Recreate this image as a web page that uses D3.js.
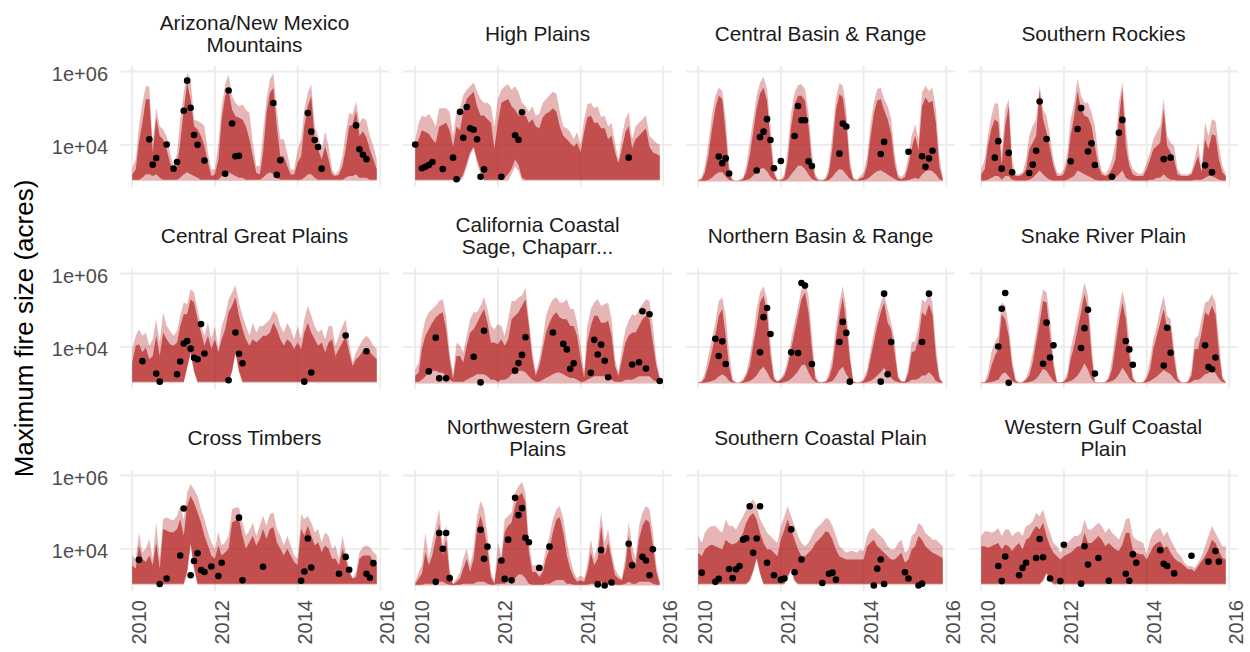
<!DOCTYPE html>
<html>
<head>
<meta charset="utf-8">
<script src="https://cdn.jsdelivr.net/npm/d3@7"></script>
<style>
  body { margin: 0; background: #fff; }
  svg { display: block; font-family: "Liberation Sans", Arial, sans-serif; }
</style>
</head>
<body>
<div id="chart"></div>
<script>
// facet titles (one entry per panel, split in lines as in the strips)
const stripLabels = [
  ["Arizona/New Mexico", "Mountains"], ["High Plains"], ["Central Basin & Range"], ["Southern Rockies"],
  ["Central Great Plains"], ["California Coastal", "Sage, Chaparr..."], ["Northern Basin & Range"], ["Snake River Plain"],
  ["Cross Timbers"], ["Northwestern Great", "Plains"], ["Southern Coastal Plain"], ["Western Gulf Coastal", "Plain"]
];

const yTicks = [1e4, 1e6];
const yTickLabels = ["1e+04", "1e+06"];
const xTickYears = [2010, 2012, 2014, 2016];

// monthly values, Jan 2010 .. Dec 2015, log10(acres), one row of 12 per year
const hi95 = [
 [3.37,3.6,4.51,5.15,5.6,5.6,4.05,5.01,4.51,4.42,4.24,3.78,
  3.42,3.78,4.69,5.42,5.96,5.78,4.69,4.65,4.6,4.51,3.78,3.33,
  3.33,4.05,5.05,5.65,5.92,5.33,5.15,5.05,5.1,4.96,4.87,4.05,
  3.42,3.42,4.33,5.24,5.78,5.96,4.96,4.15,4.15,3.78,3.33,3.33,
  3.87,4.15,4.96,5.42,5.65,4.51,4.24,3.87,4.37,3.96,3.33,3.19,
  3.33,3.69,4.33,4.87,4.83,5.19,4.6,4.74,4.65,4.24,3.96,3.6],
 [4.15,4.6,4.8,4.75,4.85,4.7,4.5,5.0,5.0,5.0,4.9,4.25,
  4.9,5.0,5.35,5.5,5.6,5.7,5.45,5.25,5.15,5.15,5.05,4.5,
  5.25,5.5,5.6,5.65,5.5,5.6,5.45,5.15,5.05,4.9,5.05,4.8,
  4.85,5.15,5.25,5.35,5.45,5.4,4.9,4.5,4.45,4.35,4.15,4.35,
  4.0,4.7,5.1,5.15,5.0,5.05,4.75,4.8,4.5,4.6,4.05,3.6,
  4.25,4.7,4.9,4.15,4.5,4.6,4.7,4.8,4.25,4.15,4.05,4.0],
 [3.05,3.11,3.43,4.06,4.79,5.34,5.56,5.47,4.7,3.43,3.06,3.02,
  3.05,3.11,3.43,4.06,4.7,5.34,5.7,5.86,5.52,4.52,3.34,3.06,
  3.06,3.2,3.88,4.88,5.43,5.63,5.65,5.52,4.88,3.79,3.2,3.06,
  3.05,3.11,3.43,4.34,5.25,5.68,5.61,4.97,3.61,3.11,3.05,3.15,
  3.25,3.7,4.52,5.15,5.52,5.56,5.25,5.06,4.7,3.79,3.2,3.11,
  3.25,3.7,4.25,4.56,4.15,5.43,5.61,5.47,5.56,4.97,3.7,3.11],
 [3.34,3.61,4.25,4.79,5.15,5.11,3.79,4.97,5.25,3.61,3.2,3.2,
  3.25,3.61,4.25,4.52,4.7,5.61,4.97,4.79,4.25,3.61,3.25,3.2,
  3.34,3.79,4.7,5.15,5.81,5.34,5.15,5.15,4.88,4.52,3.7,3.29,
  3.2,3.34,3.61,4.06,5.15,5.72,4.52,3.61,3.34,3.25,3.2,3.25,
  3.52,3.79,4.15,4.34,4.52,5.26,4.25,4.06,3.97,3.34,3.2,3.2,
  3.2,3.25,3.61,4.06,3.34,4.61,4.25,4.7,4.65,3.97,3.43,3.2],
 [3.94,4.3,4.48,4.3,4.39,4.03,4.21,4.75,4.12,4.94,4.57,4.44,
  4.3,4.44,4.85,5.21,5.16,5.57,5.48,5.03,4.57,4.3,4.66,4.21,
  4.57,3.94,4.57,4.85,5.3,5.48,5.68,5.21,4.85,4.57,4.3,4.66,
  4.39,4.57,4.57,4.66,4.75,4.98,4.89,4.57,4.39,4.66,4.48,4.21,
  4.57,4.21,4.75,5.12,4.85,4.57,4.39,4.48,4.21,4.57,4.57,4.03,
  4.3,4.57,4.75,4.12,3.57,3.85,4.03,4.21,4.3,4.21,4.03,3.94],
 [3.39,3.57,4.3,4.75,4.94,5.03,5.12,5.25,5.3,4.85,3.85,3.25,
  4.12,4.03,3.85,4.3,4.75,4.94,4.94,5.12,5.35,5.03,4.57,4.48,
  4.62,4.57,4.3,4.75,5.25,5.25,5.35,5.39,5.62,4.75,3.85,3.3,
  3.66,4.21,4.85,5.12,5.3,5.35,5.21,5.21,5.3,5.03,5.03,4.66,
  4.03,3.3,4.57,5.03,5.21,5.3,5.12,5.16,5.21,4.75,3.66,3.3,
  3.94,4.48,4.71,4.89,4.85,5.03,5.16,5.3,5.25,4.57,3.66,3.16],
 [3.03,3.07,3.3,3.75,4.21,4.66,5.25,5.35,4.85,3.85,3.12,3.03,
  3.03,3.12,3.3,3.75,4.3,5.03,5.48,5.66,5.3,4.12,3.21,3.07,
  3.14,3.3,3.66,4.21,4.66,5.12,5.57,5.77,5.39,4.3,3.21,3.05,
  3.05,3.07,3.3,3.75,4.57,5.21,5.66,5.03,3.85,3.07,3.03,3.05,
  3.12,3.39,3.85,4.39,4.85,5.21,5.45,5.03,4.66,4.21,3.21,3.07,
  3.07,3.48,4.12,4.16,4.57,5.3,5.21,5.48,5.21,4.03,3.21,3.03],
 [3.03,3.05,3.3,3.85,4.12,4.3,5.21,5.12,4.57,3.66,3.12,3.03,
  3.05,3.16,3.39,3.85,4.39,5.03,5.57,5.48,4.75,3.66,3.05,3.03,
  3.07,3.3,3.94,4.39,4.85,5.3,5.75,5.39,4.12,3.05,3.03,3.03,
  3.05,3.21,3.66,4.39,5.03,5.53,5.12,4.12,3.21,3.03,3.03,3.05,
  3.21,3.66,4.21,4.57,5.03,5.39,4.85,4.75,3.94,3.21,3.05,3.03,
  3.07,3.39,4.21,4.3,4.75,5.21,5.25,5.44,5.21,4.21,3.21,3.05],
 [3.82,3.73,4.45,3.91,4.0,4.27,3.73,4.72,3.73,4.81,4.86,4.81,
  4.77,4.9,5.17,4.81,5.53,5.76,5.62,5.44,5.08,4.81,4.45,4.18,
  4.0,4.45,4.09,4.18,4.36,5.08,5.13,5.13,4.72,4.36,4.5,4.72,
  4.36,4.63,4.9,4.63,4.95,4.99,4.54,4.36,4.09,4.36,4.09,3.82,
  3.73,4.95,4.81,4.9,4.72,4.45,4.54,4.18,4.45,4.36,4.0,4.09,
  3.73,4.36,3.91,3.46,3.19,3.37,3.91,4.05,4.09,4.05,3.91,3.82],
 [3.1,3.37,3.55,4.45,3.73,4.18,4.63,5.08,4.09,4.68,3.46,3.05,
  3.19,3.37,3.73,4.0,3.55,4.0,4.9,5.31,5.08,4.36,3.37,3.1,
  4.18,3.82,4.81,4.9,4.99,5.53,5.71,5.82,5.53,4.18,3.55,3.55,
  3.32,3.55,4.0,4.36,4.81,5.08,5.17,4.81,4.18,3.73,3.37,3.19,
  3.28,3.19,3.55,4.27,3.73,4.09,4.99,4.18,4.54,3.91,3.46,3.28,
  3.19,3.82,4.72,4.09,3.73,4.63,4.99,5.17,5.08,4.45,3.55,3.1],
 [4.35,4.16,4.44,4.57,4.62,4.62,4.53,4.44,4.8,4.62,4.62,4.53,
  4.71,4.89,5.07,5.25,5.35,5.16,4.8,4.62,4.44,4.35,4.25,4.16,
  4.62,4.89,5.16,4.89,4.62,4.35,4.16,4.07,4.16,4.35,4.53,4.62,
  4.71,4.85,4.8,4.62,4.35,4.07,3.98,3.89,3.94,3.94,3.89,3.98,
  3.94,4.35,4.53,4.57,4.44,4.35,4.25,4.07,3.98,3.98,4.16,4.25,
  3.89,3.98,4.35,4.44,4.71,4.62,4.44,4.35,4.25,4.25,4.16,4.07],
 [4.35,4.48,4.48,4.44,4.48,4.57,4.35,4.53,4.53,4.35,4.44,4.48,
  4.35,4.62,4.66,4.75,4.98,4.89,5.07,4.71,4.44,4.16,4.07,3.89,
  4.07,4.16,4.25,4.35,4.35,4.44,4.8,4.53,4.53,4.62,4.71,4.62,
  4.44,4.57,4.44,4.35,4.25,4.48,4.8,4.85,4.35,4.25,4.21,4.16,
  3.85,4.25,4.44,4.53,4.57,4.35,4.48,4.25,4.07,3.89,3.8,3.62,
  3.53,3.53,3.48,3.62,3.8,4.07,4.35,4.62,4.44,4.25,4.07,4.07]
];

const hi50 = [
 [3.19,3.33,4.05,4.6,5.24,5.24,3.78,4.74,4.24,4.15,3.87,3.51,
  3.24,3.42,4.05,4.96,5.69,5.24,4.51,4.42,4.24,3.96,3.51,3.15,
  3.19,3.6,4.69,5.33,5.51,4.96,4.78,4.74,4.69,4.51,4.15,3.69,
  3.24,3.19,3.78,4.87,5.42,5.55,4.51,3.69,3.69,3.42,3.19,3.19,
  3.51,3.69,4.51,5.05,5.33,4.15,3.87,3.6,3.96,3.6,3.19,3.15,
  3.19,3.42,3.87,4.51,4.55,4.92,4.24,4.37,4.19,3.87,3.6,3.33],
 [3.97,4.15,4.4,4.35,4.3,4.15,4.05,4.5,4.55,4.6,4.4,3.95,
  4.5,4.4,4.9,5.25,5.35,5.45,5.05,4.8,4.8,4.7,4.6,3.9,
  4.6,5.15,5.2,5.25,5.05,4.95,4.8,4.8,4.8,4.6,4.7,4.5,
  4.45,4.75,4.85,4.9,5.0,4.9,4.5,4.25,4.15,4.05,3.95,4.05,
  3.8,4.35,4.75,4.8,4.6,4.6,4.45,4.45,4.15,4.25,3.8,3.5,
  3.9,4.35,4.5,3.9,4.15,4.25,4.35,4.45,3.95,3.8,3.75,3.7],
 [3.03,3.06,3.25,3.7,4.4,5.0,5.34,5.25,4.3,3.2,3.03,3.01,
  3.03,3.06,3.25,3.7,4.35,5.0,5.4,5.56,5.2,4.1,3.2,3.03,
  3.03,3.1,3.55,4.5,5.1,5.34,5.34,5.2,4.5,3.5,3.1,3.03,
  3.03,3.06,3.25,3.95,4.95,5.38,5.3,4.6,3.4,3.06,3.03,3.08,
  3.12,3.45,4.15,4.85,5.2,5.25,4.95,4.7,4.3,3.5,3.1,3.06,
  3.12,3.45,3.9,4.25,3.85,5.05,5.29,5.15,5.2,4.6,3.4,3.06],
 [3.2,3.34,3.97,4.43,4.7,4.61,3.43,4.52,5.06,3.34,3.15,3.15,
  3.2,3.34,3.88,4.06,4.25,5.47,4.7,4.34,3.88,3.43,3.15,3.15,
  3.2,3.52,4.25,4.79,5.47,4.97,4.79,4.75,4.52,3.97,3.43,3.2,
  3.15,3.2,3.34,3.61,4.7,5.52,3.97,3.43,3.2,3.15,3.15,3.15,
  3.34,3.61,3.88,3.97,4.06,4.97,3.97,3.79,3.61,3.2,3.15,3.15,
  3.15,3.2,3.43,3.7,3.25,4.15,3.88,4.29,4.25,3.61,3.25,3.15],
 [3.57,4.03,4.07,3.85,3.98,3.66,3.75,4.3,3.75,4.39,4.21,4.07,
  4.03,4.12,4.57,4.89,4.89,5.3,5.21,4.75,4.39,4.03,4.3,3.94,
  4.21,3.85,4.21,4.48,4.94,5.12,5.35,4.85,4.48,4.21,4.03,4.21,
  4.12,4.21,4.3,4.3,4.39,4.66,4.48,4.21,4.03,4.21,4.12,3.94,
  4.12,3.94,4.39,4.66,4.39,4.21,4.03,4.12,3.85,4.12,4.21,3.75,
  3.94,4.12,4.3,3.85,3.48,3.66,3.75,3.89,3.94,3.85,3.75,3.66],
 [3.21,3.3,3.94,4.3,4.48,4.66,4.8,4.89,4.94,4.48,3.66,3.12,
  3.75,3.75,3.57,4.03,4.39,4.48,4.66,4.85,5.03,4.66,4.12,4.12,
  4.07,4.21,4.03,4.21,4.75,4.85,4.94,5.12,5.3,4.57,3.66,3.21,
  3.48,3.94,4.39,4.66,4.85,4.94,4.8,4.75,4.75,4.57,4.57,4.3,
  3.66,3.16,4.12,4.57,4.85,4.85,4.66,4.66,4.71,4.3,3.48,3.21,
  3.66,4.12,4.3,4.39,4.39,4.57,4.75,4.85,4.75,4.12,3.48,3.12],
 [3.03,3.05,3.16,3.48,3.85,4.3,4.85,5.03,4.3,3.45,3.07,3.03,
  3.03,3.07,3.21,3.48,4.03,4.57,5.21,5.39,4.94,3.75,3.12,3.05,
  3.1,3.21,3.48,3.94,4.39,4.85,5.3,5.48,4.94,3.94,3.12,3.03,
  3.03,3.05,3.16,3.48,4.21,4.85,5.35,4.66,3.66,3.05,3.03,3.03,
  3.07,3.25,3.66,4.12,4.57,4.94,5.21,4.66,4.48,3.85,3.16,3.05,
  3.05,3.3,3.85,3.89,4.21,4.94,4.85,5.16,4.89,3.75,3.12,3.03],
 [3.03,3.03,3.12,3.48,3.75,3.94,4.89,4.75,4.3,3.48,3.07,3.03,
  3.03,3.1,3.21,3.57,4.12,4.66,5.25,5.21,4.3,3.48,3.03,3.03,
  3.05,3.16,3.66,4.03,4.48,4.94,5.44,5.03,3.75,3.03,3.03,3.03,
  3.03,3.12,3.39,4.03,4.66,5.21,4.75,3.75,3.12,3.03,3.03,3.03,
  3.12,3.39,3.94,4.3,4.66,5.03,4.48,4.57,3.66,3.12,3.03,3.03,
  3.05,3.21,3.94,3.94,4.39,4.94,4.85,5.12,4.89,3.85,3.12,3.03],
 [3.55,3.46,4.09,3.73,3.64,3.82,3.55,4.18,3.46,4.54,4.5,4.45,
  4.45,4.54,4.81,4.36,5.17,5.44,5.26,4.99,4.72,4.36,4.09,3.82,
  3.73,4.09,3.82,3.91,4.0,4.72,4.77,4.81,4.36,4.0,4.18,4.36,
  4.09,4.27,4.54,4.27,4.54,4.59,4.18,4.0,3.82,4.0,3.82,3.64,
  3.55,4.54,4.36,4.63,4.36,4.09,4.18,3.91,4.09,4.0,3.73,3.73,
  3.55,4.0,3.73,3.37,3.19,3.23,3.73,3.82,3.82,3.82,3.64,3.55],
 [3.05,3.19,3.32,3.91,3.55,3.82,4.27,4.68,3.82,4.27,3.28,3.03,
  3.1,3.19,3.46,3.73,3.37,3.73,4.54,4.9,4.54,4.0,3.23,3.05,
  3.73,3.64,4.45,4.63,4.72,5.17,5.44,5.53,5.26,3.91,3.37,3.37,
  3.23,3.37,3.73,4.0,4.45,4.81,4.86,4.45,3.82,3.46,3.23,3.1,
  3.14,3.1,3.37,3.91,3.55,3.73,4.63,3.82,4.18,3.73,3.28,3.19,
  3.14,3.55,4.36,3.73,3.55,4.27,4.63,4.81,4.72,4.09,3.37,3.05],
 [3.89,3.8,3.98,4.07,4.12,4.07,4.03,3.98,4.25,4.16,4.12,4.16,
  4.25,4.44,4.71,4.89,4.98,4.8,4.44,4.16,3.98,3.98,3.89,3.8,
  4.25,4.53,4.8,4.53,4.25,3.98,3.8,3.8,3.89,3.98,4.16,4.25,
  4.35,4.48,4.44,4.25,3.98,3.8,3.75,3.71,3.71,3.71,3.71,3.71,
  3.71,4.07,4.16,4.25,4.07,3.98,3.89,3.8,3.71,3.71,3.8,3.89,
  3.62,3.71,3.98,4.07,4.35,4.25,4.07,3.98,3.89,3.85,3.8,3.75],
 [4.07,4.07,4.03,4.07,4.12,4.16,3.98,4.12,4.07,3.94,4.07,4.16,
  3.98,4.25,4.3,4.48,4.62,4.53,4.71,4.35,4.07,3.89,3.8,3.71,
  3.8,3.85,3.89,3.98,4.07,4.07,4.44,4.16,4.16,4.25,4.35,4.25,
  4.07,4.16,4.07,3.98,3.94,4.12,4.44,4.44,3.98,3.89,3.85,3.85,
  3.71,3.89,4.07,4.16,4.21,4.03,4.07,3.89,3.75,3.66,3.62,3.53,
  3.44,3.44,3.39,3.53,3.66,3.8,3.98,4.25,4.16,3.94,3.75,3.71]
];

const lo50 = [
 [3.05,3.05,3.05,3.1,3.2,3.2,3.15,3.2,3.1,3.05,3.05,3.05,
  3.05,3.05,3.1,3.2,3.25,3.2,3.15,3.1,3.05,3.05,3.05,3.05,
  3.05,3.05,3.15,3.2,3.25,3.2,3.15,3.1,3.1,3.05,3.05,3.05,
  3.05,3.05,3.1,3.2,3.25,3.2,3.1,3.05,3.05,3.05,3.05,3.05,
  3.05,3.05,3.1,3.2,3.2,3.1,3.05,3.05,3.05,3.05,3.05,3.05,
  3.05,3.05,3.1,3.15,3.15,3.2,3.1,3.1,3.1,3.05,3.05,3.05],
 [3.05,3.05,3.05,3.05,3.05,3.05,3.05,3.05,3.05,3.05,3.05,3.05,
  3.05,3.05,3.2,3.5,3.8,3.95,3.6,3.3,3.05,3.05,3.05,3.05,
  3.05,3.05,3.1,3.2,3.35,3.6,3.45,3.1,3.05,3.05,3.05,3.05,
  3.05,3.05,3.05,3.05,3.05,3.05,3.05,3.05,3.05,3.05,3.05,3.05,
  3.05,3.05,3.05,3.05,3.05,3.05,3.05,3.05,3.05,3.05,3.05,3.05,
  3.05,3.05,3.05,3.05,3.05,3.05,3.05,3.05,3.05,3.05,3.05,3.05],
 [3.02,3.02,3.02,3.04,3.1,3.19,3.25,3.25,3.13,3.04,3.02,3.0,
  3.02,3.02,3.04,3.07,3.16,3.25,3.34,3.37,3.28,3.13,3.04,3.02,
  3.02,3.03,3.07,3.19,3.31,3.43,3.43,3.34,3.19,3.07,3.03,3.02,
  3.02,3.02,3.04,3.13,3.25,3.34,3.31,3.19,3.07,3.03,3.02,3.03,
  3.04,3.07,3.13,3.22,3.28,3.31,3.25,3.19,3.13,3.07,3.03,3.02,
  3.03,3.04,3.07,3.1,3.07,3.19,3.28,3.31,3.28,3.19,3.07,3.02],
 [3.03,3.03,3.05,3.1,3.15,3.15,3.05,3.15,3.15,3.05,3.03,3.03,
  3.03,3.03,3.05,3.1,3.2,3.3,3.2,3.1,3.05,3.03,3.03,3.03,
  3.03,3.05,3.1,3.15,3.3,3.25,3.2,3.15,3.1,3.05,3.03,3.03,
  3.03,3.03,3.05,3.1,3.2,3.3,3.1,3.05,3.03,3.03,3.03,3.03,
  3.03,3.05,3.05,3.1,3.1,3.2,3.1,3.05,3.05,3.03,3.03,3.03,
  3.03,3.03,3.05,3.05,3.05,3.1,3.15,3.15,3.1,3.05,3.03,3.03],
 [3.05,3.05,3.05,3.05,3.05,3.05,3.05,3.05,3.05,3.05,3.05,3.05,
  3.05,3.05,3.05,3.05,3.45,3.85,3.35,3.05,3.05,3.05,3.05,3.05,
  3.05,3.05,3.05,3.05,3.05,3.35,3.85,3.35,3.05,3.05,3.05,3.05,
  3.05,3.05,3.05,3.05,3.05,3.05,3.05,3.05,3.05,3.05,3.05,3.05,
  3.05,3.05,3.05,3.05,3.05,3.05,3.05,3.05,3.05,3.05,3.05,3.05,
  3.05,3.05,3.05,3.05,3.05,3.05,3.05,3.05,3.05,3.05,3.05,3.05],
 [3.05,3.05,3.1,3.2,3.3,3.35,3.35,3.3,3.3,3.2,3.1,3.05,
  3.05,3.05,3.05,3.1,3.15,3.2,3.25,3.25,3.25,3.2,3.1,3.1,
  3.05,3.1,3.1,3.15,3.25,3.3,3.35,3.35,3.3,3.2,3.1,3.05,
  3.05,3.1,3.15,3.2,3.25,3.3,3.3,3.25,3.2,3.15,3.15,3.1,
  3.05,3.05,3.1,3.15,3.2,3.2,3.2,3.2,3.15,3.1,3.05,3.05,
  3.05,3.1,3.1,3.1,3.15,3.2,3.2,3.2,3.2,3.1,3.05,3.02],
 [3.02,3.02,3.03,3.04,3.07,3.1,3.19,3.25,3.19,3.07,3.03,3.02,
  3.02,3.02,3.04,3.07,3.13,3.22,3.37,3.46,3.31,3.13,3.04,3.02,
  3.02,3.04,3.07,3.13,3.22,3.34,3.49,3.52,3.31,3.13,3.04,3.02,
  3.02,3.02,3.04,3.07,3.19,3.37,3.46,3.25,3.1,3.02,3.02,3.02,
  3.02,3.04,3.07,3.13,3.22,3.31,3.43,3.25,3.16,3.07,3.04,3.02,
  3.02,3.04,3.1,3.1,3.13,3.22,3.22,3.31,3.22,3.07,3.03,3.02],
 [3.02,3.02,3.03,3.04,3.07,3.1,3.25,3.31,3.19,3.07,3.03,3.02,
  3.02,3.03,3.04,3.07,3.13,3.25,3.4,3.34,3.19,3.07,3.02,3.02,
  3.02,3.04,3.07,3.13,3.22,3.37,3.55,3.37,3.13,3.02,3.02,3.02,
  3.02,3.04,3.07,3.13,3.25,3.43,3.31,3.13,3.04,3.02,3.02,3.02,
  3.04,3.07,3.13,3.19,3.28,3.37,3.31,3.25,3.13,3.04,3.02,3.02,
  3.02,3.04,3.1,3.1,3.16,3.25,3.28,3.37,3.28,3.13,3.04,3.02],
 [3.05,3.05,3.05,3.05,3.05,3.05,3.05,3.05,3.05,3.05,3.05,3.05,
  3.05,3.05,3.05,3.05,3.4,4.15,3.5,3.05,3.05,3.05,3.05,3.05,
  3.05,3.05,3.05,3.05,3.05,3.05,3.05,3.05,3.05,3.05,3.05,3.05,
  3.05,3.05,3.05,3.05,3.05,3.05,3.05,3.05,3.05,3.05,3.05,3.05,
  3.05,3.05,3.05,3.05,3.05,3.05,3.05,3.05,3.05,3.05,3.05,3.05,
  3.05,3.05,3.05,3.05,3.05,3.05,3.05,3.05,3.05,3.05,3.05,3.05],
 [3.02,3.02,3.02,3.05,3.05,3.05,3.1,3.1,3.1,3.05,3.02,3.01,
  3.02,3.02,3.05,3.05,3.05,3.05,3.1,3.1,3.1,3.05,3.02,3.02,
  3.05,3.05,3.05,3.1,3.15,3.2,3.3,3.3,3.2,3.05,3.02,3.02,
  3.02,3.02,3.05,3.05,3.1,3.15,3.15,3.15,3.05,3.05,3.02,3.02,
  3.02,3.02,3.02,3.05,3.05,3.05,3.1,3.05,3.05,3.05,3.02,3.02,
  3.02,3.05,3.1,3.05,3.05,3.1,3.1,3.1,3.1,3.05,3.02,3.02],
 [3.05,3.05,3.05,3.05,3.05,3.05,3.05,3.05,3.05,3.05,3.05,3.05,
  3.05,3.05,3.05,3.15,3.4,3.75,3.35,3.05,3.05,3.05,3.05,3.05,
  3.05,3.05,3.25,3.45,3.15,3.05,3.05,3.05,3.05,3.05,3.05,3.05,
  3.05,3.05,3.05,3.05,3.05,3.05,3.05,3.05,3.05,3.05,3.05,3.05,
  3.05,3.05,3.05,3.05,3.05,3.05,3.05,3.05,3.05,3.05,3.05,3.05,
  3.05,3.05,3.05,3.05,3.05,3.05,3.05,3.05,3.05,3.05,3.05,3.05],
 [3.05,3.05,3.05,3.05,3.05,3.05,3.05,3.05,3.05,3.05,3.05,3.05,
  3.05,3.05,3.05,3.05,3.05,3.05,3.15,3.35,3.15,3.05,3.05,3.05,
  3.05,3.05,3.05,3.05,3.05,3.05,3.05,3.05,3.05,3.05,3.05,3.05,
  3.05,3.05,3.05,3.05,3.05,3.05,3.05,3.05,3.05,3.05,3.05,3.05,
  3.05,3.05,3.05,3.05,3.05,3.05,3.05,3.05,3.05,3.05,3.05,3.05,
  3.05,3.05,3.05,3.05,3.05,3.05,3.05,3.05,3.05,3.05,3.05,3.05]
];

const lo95 = [
 [3.02,3.02,3.02,3.02,3.02,3.02,3.02,3.02,3.02,3.02,3.02,3.02,
  3.02,3.02,3.02,3.02,3.02,3.02,3.02,3.02,3.02,3.02,3.02,3.02,
  3.02,3.02,3.02,3.02,3.02,3.02,3.02,3.02,3.02,3.02,3.02,3.02,
  3.02,3.02,3.02,3.02,3.02,3.02,3.02,3.02,3.02,3.02,3.02,3.02,
  3.02,3.02,3.02,3.02,3.02,3.02,3.02,3.02,3.02,3.02,3.02,3.02,
  3.02,3.02,3.02,3.02,3.02,3.02,3.02,3.02,3.02,3.02,3.02,3.02],
 [3.02,3.02,3.02,3.02,3.02,3.02,3.02,3.02,3.02,3.02,3.02,3.02,
  3.02,3.02,3.1,3.4,3.7,3.9,3.5,3.2,3.02,3.02,3.02,3.02,
  3.02,3.02,3.02,3.02,3.2,3.4,3.3,3.02,3.02,3.02,3.02,3.02,
  3.02,3.02,3.02,3.02,3.02,3.02,3.02,3.02,3.02,3.02,3.02,3.02,
  3.02,3.02,3.02,3.02,3.02,3.02,3.02,3.02,3.02,3.02,3.02,3.02,
  3.02,3.02,3.02,3.02,3.02,3.02,3.02,3.02,3.02,3.02,3.02,3.02],
 [3.0,3.0,3.0,3.0,3.0,3.0,3.0,3.0,3.0,3.0,3.0,3.0,
  3.0,3.0,3.0,3.0,3.0,3.0,3.0,3.0,3.0,3.0,3.0,3.0,
  3.0,3.0,3.0,3.0,3.0,3.0,3.0,3.0,3.0,3.0,3.0,3.0,
  3.0,3.0,3.0,3.0,3.0,3.0,3.0,3.0,3.0,3.0,3.0,3.0,
  3.0,3.0,3.0,3.0,3.0,3.0,3.0,3.0,3.0,3.0,3.0,3.0,
  3.0,3.0,3.0,3.0,3.0,3.0,3.0,3.0,3.0,3.0,3.0,3.0],
 [3.0,3.0,3.0,3.0,3.0,3.0,3.0,3.0,3.0,3.0,3.0,3.0,
  3.0,3.0,3.0,3.0,3.0,3.0,3.0,3.0,3.0,3.0,3.0,3.0,
  3.0,3.0,3.0,3.0,3.0,3.0,3.0,3.0,3.0,3.0,3.0,3.0,
  3.0,3.0,3.0,3.0,3.0,3.0,3.0,3.0,3.0,3.0,3.0,3.0,
  3.0,3.0,3.0,3.0,3.0,3.0,3.0,3.0,3.0,3.0,3.0,3.0,
  3.0,3.0,3.0,3.0,3.0,3.0,3.0,3.0,3.0,3.0,3.0,3.0],
 [3.02,3.02,3.02,3.02,3.02,3.02,3.02,3.02,3.02,3.02,3.02,3.02,
  3.02,3.02,3.02,3.02,3.4,3.8,3.3,3.02,3.02,3.02,3.02,3.02,
  3.02,3.02,3.02,3.02,3.02,3.3,3.8,3.3,3.02,3.02,3.02,3.02,
  3.02,3.02,3.02,3.02,3.02,3.02,3.02,3.02,3.02,3.02,3.02,3.02,
  3.02,3.02,3.02,3.02,3.02,3.02,3.02,3.02,3.02,3.02,3.02,3.02,
  3.02,3.02,3.02,3.02,3.02,3.02,3.02,3.02,3.02,3.02,3.02,3.02],
 [3.0,3.0,3.0,3.0,3.0,3.0,3.0,3.0,3.0,3.0,3.0,3.0,
  3.0,3.0,3.0,3.0,3.0,3.0,3.0,3.0,3.0,3.0,3.0,3.0,
  3.0,3.0,3.0,3.0,3.0,3.0,3.0,3.0,3.0,3.0,3.0,3.0,
  3.0,3.0,3.0,3.0,3.0,3.0,3.0,3.0,3.0,3.0,3.0,3.0,
  3.0,3.0,3.0,3.0,3.0,3.0,3.0,3.0,3.0,3.0,3.0,3.0,
  3.0,3.0,3.0,3.0,3.0,3.0,3.0,3.0,3.0,3.0,3.0,3.0],
 [3.0,3.0,3.0,3.0,3.0,3.0,3.0,3.0,3.0,3.0,3.0,3.0,
  3.0,3.0,3.0,3.0,3.0,3.0,3.0,3.0,3.0,3.0,3.0,3.0,
  3.0,3.0,3.0,3.0,3.0,3.0,3.0,3.0,3.0,3.0,3.0,3.0,
  3.0,3.0,3.0,3.0,3.0,3.0,3.0,3.0,3.0,3.0,3.0,3.0,
  3.0,3.0,3.0,3.0,3.0,3.0,3.0,3.0,3.0,3.0,3.0,3.0,
  3.0,3.0,3.0,3.0,3.0,3.0,3.0,3.0,3.0,3.0,3.0,3.0],
 [3.0,3.0,3.0,3.0,3.0,3.0,3.0,3.0,3.0,3.0,3.0,3.0,
  3.0,3.0,3.0,3.0,3.0,3.0,3.0,3.0,3.0,3.0,3.0,3.0,
  3.0,3.0,3.0,3.0,3.0,3.0,3.0,3.0,3.0,3.0,3.0,3.0,
  3.0,3.0,3.0,3.0,3.0,3.0,3.0,3.0,3.0,3.0,3.0,3.0,
  3.0,3.0,3.0,3.0,3.0,3.0,3.0,3.0,3.0,3.0,3.0,3.0,
  3.0,3.0,3.0,3.0,3.0,3.0,3.0,3.0,3.0,3.0,3.0,3.0],
 [3.02,3.02,3.02,3.02,3.02,3.02,3.02,3.02,3.02,3.02,3.02,3.02,
  3.02,3.02,3.02,3.02,3.3,4.1,3.4,3.02,3.02,3.02,3.02,3.02,
  3.02,3.02,3.02,3.02,3.02,3.02,3.02,3.02,3.02,3.02,3.02,3.02,
  3.02,3.02,3.02,3.02,3.02,3.02,3.02,3.02,3.02,3.02,3.02,3.02,
  3.02,3.02,3.02,3.02,3.02,3.02,3.02,3.02,3.02,3.02,3.02,3.02,
  3.02,3.02,3.02,3.02,3.02,3.02,3.02,3.02,3.02,3.02,3.02,3.02],
 [3.0,3.0,3.0,3.0,3.0,3.0,3.0,3.0,3.0,3.0,3.0,3.0,
  3.0,3.0,3.0,3.0,3.0,3.0,3.0,3.0,3.0,3.0,3.0,3.0,
  3.0,3.0,3.0,3.0,3.0,3.0,3.0,3.0,3.0,3.0,3.0,3.0,
  3.0,3.0,3.0,3.0,3.0,3.0,3.0,3.0,3.0,3.0,3.0,3.0,
  3.0,3.0,3.0,3.0,3.0,3.0,3.0,3.0,3.0,3.0,3.0,3.0,
  3.0,3.0,3.0,3.0,3.0,3.0,3.0,3.0,3.0,3.0,3.0,3.0],
 [3.02,3.02,3.02,3.02,3.02,3.02,3.02,3.02,3.02,3.02,3.02,3.02,
  3.02,3.02,3.02,3.1,3.35,3.7,3.3,3.02,3.02,3.02,3.02,3.02,
  3.02,3.02,3.2,3.4,3.1,3.02,3.02,3.02,3.02,3.02,3.02,3.02,
  3.02,3.02,3.02,3.02,3.02,3.02,3.02,3.02,3.02,3.02,3.02,3.02,
  3.02,3.02,3.02,3.02,3.02,3.02,3.02,3.02,3.02,3.02,3.02,3.02,
  3.02,3.02,3.02,3.02,3.02,3.02,3.02,3.02,3.02,3.02,3.02,3.02],
 [3.02,3.02,3.02,3.02,3.02,3.02,3.02,3.02,3.02,3.02,3.02,3.02,
  3.02,3.02,3.02,3.02,3.02,3.02,3.1,3.3,3.1,3.02,3.02,3.02,
  3.02,3.02,3.02,3.02,3.02,3.02,3.02,3.02,3.02,3.02,3.02,3.02,
  3.02,3.02,3.02,3.02,3.02,3.02,3.02,3.02,3.02,3.02,3.02,3.02,
  3.02,3.02,3.02,3.02,3.02,3.02,3.02,3.02,3.02,3.02,3.02,3.02,
  3.02,3.02,3.02,3.02,3.02,3.02,3.02,3.02,3.02,3.02,3.02,3.02]
];

// observed maxima: [month index from Jan 2010, log10(acres)]
const observed = [
 [[5,4.15],[6,3.46],[7,3.64],[10,4.01],[12,3.35],[13,3.53],[15,4.93],[16,5.75],[17,5.01],[18,4.27],[19,4.0],[21,3.57],[27,3.21],[28,5.48],[29,4.58],[30,3.69],[31,3.7],[41,5.14],[42,3.18],[43,3.58],[51,4.87],[52,4.36],[53,4.13],[54,3.94],[55,3.35],[65,4.53],[66,3.88],[67,3.73],[68,3.61]],
 [[0,4.01],[2,3.36],[3,3.4],[4,3.45],[5,3.53],[8,3.34],[11,3.65],[12,3.06],[13,4.9],[14,4.19],[15,5.03],[16,4.45],[17,4.41],[18,4.15],[19,3.13],[20,3.33],[25,3.13],[29,4.26],[30,4.14],[31,4.89],[62,3.65]],
 [[6,3.68],[7,3.5],[8,3.63],[9,3.22],[17,3.3],[18,4.21],[19,4.36],[20,4.7],[21,4.13],[22,3.36],[24,3.56],[28,4.24],[29,5.06],[30,4.67],[31,4.67],[32,3.55],[33,3.42],[41,3.76],[42,4.58],[43,4.5],[53,3.75],[54,4.08],[61,3.81],[65,3.69],[66,3.4],[67,3.63],[68,3.84]],
 [[4,3.65],[5,4.1],[6,3.35],[8,3.78],[9,3.25],[14,3.23],[15,3.46],[16,3.84],[17,5.18],[19,4.16],[26,3.55],[28,4.43],[29,5.0],[31,3.82],[32,4.04],[33,3.45],[38,3.13],[40,4.33],[41,4.68],[53,3.61],[55,3.65],[65,3.44],[67,3.25]],
 [[3,3.61],[7,3.27],[8,3.05],[13,3.25],[14,3.6],[15,4.09],[16,4.16],[17,3.95],[18,3.7],[19,3.66],[20,4.62],[21,3.82],[28,3.09],[30,4.39],[31,3.81],[32,3.55],[50,3.05],[52,3.3],[62,4.31],[68,3.88]],
 [[4,3.33],[6,4.25],[7,3.14],[9,3.14],[17,3.73],[19,3.03],[20,4.44],[29,3.35],[30,3.56],[31,3.78],[32,4.26],[40,4.39],[43,4.08],[44,3.93],[45,3.4],[46,3.55],[51,3.29],[52,4.19],[53,3.79],[54,4.06],[55,3.62],[56,3.17],[63,3.52],[65,3.58],[66,4.97],[67,3.41],[68,4.89],[71,3.07]],
 [[5,4.22],[6,3.75],[7,4.15],[8,3.53],[18,3.85],[19,4.81],[20,5.06],[21,4.35],[27,3.85],[29,3.83],[30,5.74],[31,5.67],[33,3.53],[41,4.13],[42,4.68],[43,4.38],[44,3.05],[53,3.05],[54,5.45],[55,3.25],[56,4.13],[65,4.13],[67,5.45]],
 [[5,4.01],[6,5.04],[7,5.47],[8,3.02],[18,3.54],[19,4.66],[20,3.71],[21,4.04],[29,3.97],[30,4.51],[31,5.01],[33,3.27],[42,4.16],[43,3.93],[44,3.51],[53,3.49],[54,4.52],[55,3.84],[65,4.04],[66,3.45],[67,3.39],[68,3.71]],
 [[2,3.7],[8,3.04],[10,3.19],[14,3.82],[15,5.1],[17,3.28],[18,3.67],[19,3.88],[20,3.42],[21,3.37],[23,3.52],[25,3.26],[26,3.62],[31,4.85],[32,3.14],[38,3.51],[49,3.13],[50,3.38],[51,4.28],[52,3.49],[60,3.32],[62,3.78],[63,3.43],[68,3.32],[69,3.21],[70,3.61]],
 [[6,3.1],[7,4.43],[8,4.0],[9,4.43],[10,3.2],[19,4.52],[20,3.73],[21,4.06],[25,3.68],[26,3.18],[27,4.25],[28,3.14],[29,5.39],[30,4.92],[31,5.11],[32,4.3],[33,4.18],[36,3.48],[39,4.06],[53,3.03],[54,3.97],[55,3.0],[57,3.08],[62,4.14],[63,3.55],[66,3.78],[67,3.68],[68,3.28],[69,3.99]],
 [[1,3.35],[5,3.1],[6,3.18],[9,3.45],[10,3.2],[11,3.44],[12,3.53],[13,4.25],[14,4.29],[15,5.16],[16,3.89],[17,4.28],[18,5.16],[20,3.62],[22,3.28],[24,3.16],[25,3.19],[27,4.53],[28,3.36],[30,3.71],[36,3.07],[38,3.32],[39,3.35],[40,3.16],[51,3.0],[52,3.46],[53,3.71],[54,3.04],[60,3.36],[61,3.19],[64,3.0],[65,3.05]],
 [[5,3.53],[6,3.12],[7,3.79],[11,3.28],[12,3.48],[13,3.62],[16,3.75],[17,4.27],[18,3.77],[20,3.19],[23,3.12],[24,4.11],[29,3.05],[30,4.07],[31,3.57],[34,3.75],[37,3.13],[42,3.32],[43,3.13],[44,3.85],[45,3.62],[52,3.96],[53,3.59],[54,3.53],[56,3.33],[61,3.81],[66,3.65],[68,3.94],[69,3.65]]
];

const months = d3.timeMonth.range(new Date(2010, 0, 1), new Date(2016, 0, 1));

// layout
const W = 1250, H = 652;
const colX = [120, 403, 686, 969], rowY = [66, 268, 470];
const pw = 269, ph = 121;
const bandColor = "#b22222";

const svg = d3.select("#chart").append("svg")
    .attr("width", W)
    .attr("height", H);

// 5% expansion on each side of the monthly range, like ggplot
const x = d3.scaleTime()
    .domain([d3.timeDay.offset(months[0], -108), d3.timeDay.offset(months[months.length - 1], 108)])
    .range([0, pw]);

const y = d3.scaleLog()
    .domain([Math.pow(10, 2.85), Math.pow(10, 6.15)])
    .range([ph, 0]);

function bandPath(lo, hi) {
    return d3.area()
        .x((d, j) => x(months[j]))
        .y0((d, j) => y(Math.pow(10, lo[j])))
        .y1((d, j) => y(Math.pow(10, hi[j])))(hi);
}

stripLabels.forEach(function(label, i) {
    let col = i % 4, row = Math.floor(i / 4);
    let g = svg.append("g").attr("transform", "translate(" + colX[col] + "," + rowY[row] + ")");

    // grid
    g.selectAll(".vgrid").data(xTickYears).enter().append("line")
        .attr("x1", d => x(new Date(d, 0, 1))).attr("x2", d => x(new Date(d, 0, 1)))
        .attr("y1", 0).attr("y2", ph)
        .attr("stroke", "#ebebeb").attr("stroke-width", 1.8);
    g.selectAll(".hgrid").data(yTicks).enter().append("line")
        .attr("x1", 0).attr("x2", pw)
        .attr("y1", d => y(d)).attr("y2", d => y(d))
        .attr("stroke", "#ebebeb").attr("stroke-width", 1.8);

    // intervals
    g.append("path").attr("d", bandPath(lo95[i], hi95[i]))
        .attr("fill", bandColor).attr("fill-opacity", 0.33);
    g.append("path").attr("d", bandPath(lo50[i], hi50[i]))
        .attr("fill", bandColor).attr("fill-opacity", 0.7);

    // observed points
    g.selectAll("circle").data(observed[i]).enter().append("circle")
        .attr("cx", d => x(months[d[0]]))
        .attr("cy", d => y(Math.pow(10, d[1])))
        .attr("r", 3.3)
        .attr("fill", "black");

    // strip title
    let base = label.length == 2 ? -36 : -25;
    label.forEach(function(line, k) {
        g.append("text")
            .attr("x", pw / 2).attr("y", base + k * 22.3)
            .attr("text-anchor", "middle")
            .style("font-size", "20.8px")
            .attr("fill", "#1a1a1a")
            .text(line);
    });

    // y axis labels on the left column
    if (col == 0) {
        g.selectAll(".ylab").data(yTicks).enter().append("text")
            .attr("x", -12).attr("y", d => y(d) + 2)
            .attr("dy", "0.35em")
            .attr("text-anchor", "end")
            .style("font-size", "20px")
            .attr("fill", "#4d4d4d")
            .text((d, k) => yTickLabels[k]);
    }

    // x axis labels on the bottom row
    if (row == 2) {
        g.selectAll(".xlab").data(xTickYears).enter().append("text")
            .attr("transform", d => "translate(" + x(new Date(d, 0, 1)) + "," + (ph + 9) + ") rotate(-90)")
            .attr("dy", "0.71em")
            .attr("text-anchor", "end")
            .style("font-size", "20px")
            .attr("fill", "#4d4d4d")
            .text(d => d);
    }
});

svg.append("text")
    .attr("transform", "translate(33," + ((rowY[0] + rowY[2] + ph) / 2) + ") rotate(-90)")
    .attr("text-anchor", "middle")
    .style("font-size", "26px")
    .attr("fill", "black")
    .text("Maximum fire size (acres)");
</script>
</body>
</html>
